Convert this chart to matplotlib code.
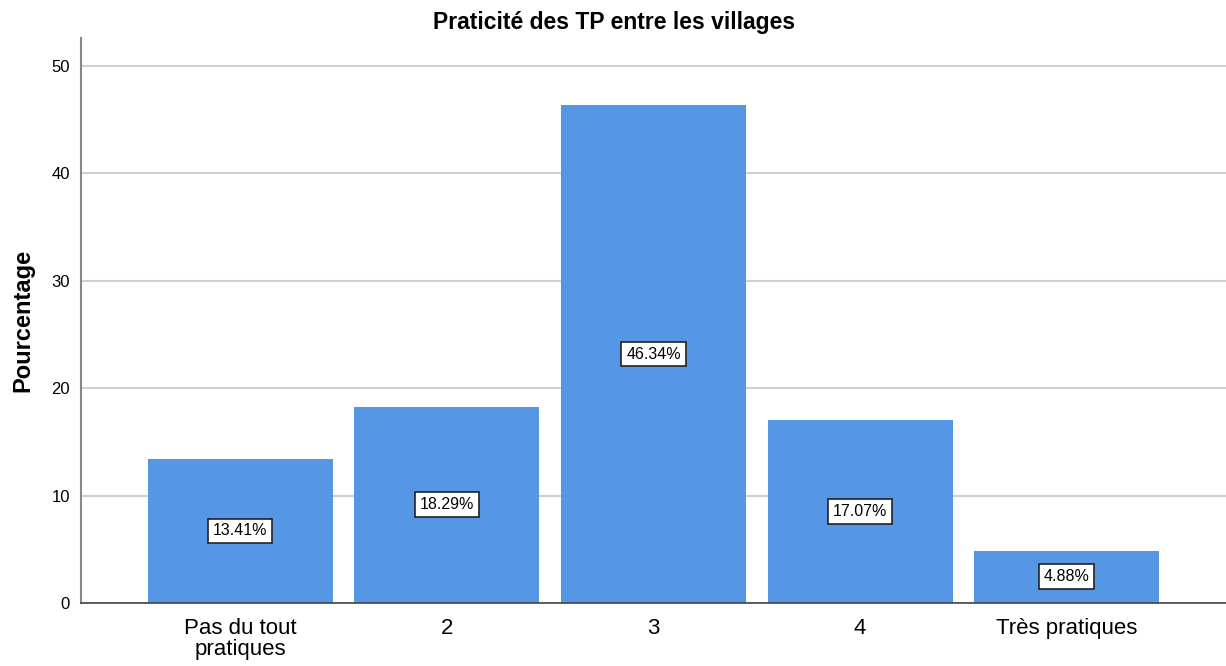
import matplotlib.pyplot as plt

categories = ['Pas du tout\npratiques', '2', '3', '4', 'Très pratiques']
pourcentages = [13.41, 18.29, 46.34, 17.07, 4.88]
yticks = [0, 10, 20, 30, 40, 50]

plt.rcParams['font.family'] = ['Liberation Sans', 'DejaVu Sans']

fig = plt.figure(figsize=(12.26, 6.66), dpi=100)
ax = fig.add_axes([81/1226, 63/666, 1 - 81/1226, (603-38)/666])

x = list(range(len(categories)))
ax.bar(x, pourcentages, width=0.896, color='#5596e5', zorder=2)

for i, v in zip(x, pourcentages):
    ax.text(i, v/2, '%.2f%%' % v, ha='center', va='center', fontsize=11.5, zorder=3,
            bbox=dict(boxstyle='square,pad=0.3', facecolor='white', edgecolor='#222222', linewidth=1.2))

ax.set_xlim(-0.772, 4.772)
ax.set_ylim(0, 52.6)
ax.set_yticks(yticks)
ax.set_xticks(x)
ax.set_xticklabels(categories, fontsize=16, linespacing=1.0)
ax.tick_params(axis='y', labelsize=12, length=0, pad=8)
ax.tick_params(axis='x', length=0, pad=11)
ax.yaxis.grid(True, color='#d0d0d0', linewidth=1.5, zorder=0)
ax.set_axisbelow(True)

for s in ['top', 'right']:
    ax.spines[s].set_visible(False)
ax.spines['left'].set_color('#888888')
ax.spines['left'].set_linewidth(1.5)
ax.spines['bottom'].set_color('#444444')
ax.spines['bottom'].set_linewidth(1.2)

ax.set_ylabel('Pourcentage', fontsize=17, fontweight='bold', labelpad=12)
fig.text(614/1226, 1 - 22/666, 'Praticité des TP entre les villages', fontsize=16.5,
         fontweight='bold', ha='center', va='center')

fig.savefig('out.png', dpi=100)
